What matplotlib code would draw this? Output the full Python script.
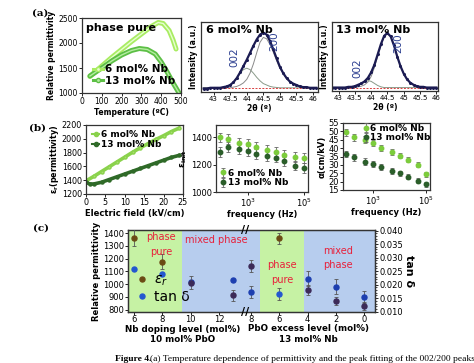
import numpy as np
import matplotlib
matplotlib.use("Agg")
import matplotlib.pyplot as plt
from matplotlib.lines import Line2D

W, H = 474, 363
plt.rcParams['font.family'] = ['DejaVu Sans']

# ---------------- data ----------------
# (a1) temperature dependence
temp_6 = [40, 100, 150, 200, 250, 300, 350, 385, 410, 440, 460, 475]
perm_6 = [1330, 1540, 1710, 1870, 2030, 2180, 2330, 2410, 2390, 2250, 2060, 1880]
temp_13 = [40, 100, 150, 200, 250, 290, 330, 370, 400, 430, 460, 490]
perm_13 = [1340, 1500, 1640, 1760, 1850, 1890, 1870, 1780, 1620, 1420, 1200, 1000]

# (a2)/(a3) XRD peak fitting
two_theta_6 = [42.7, 42.8, 42.9, 43.0, 43.1, 43.2, 43.3, 43.4, 43.5, 43.6, 43.7, 43.8,
               43.9, 44.0, 44.1, 44.2, 44.3, 44.4, 44.5, 44.6, 44.7, 44.8, 44.9, 45.0,
               45.1, 45.2, 45.3, 45.4, 45.5, 45.6, 45.7, 45.8, 45.9, 46.0, 46.1]
meas_6 = [0.05, 0.05, 0.06, 0.06, 0.06, 0.06, 0.07, 0.08, 0.10, 0.14, 0.20, 0.28,
          0.37, 0.46, 0.56, 0.66, 0.75, 0.82, 0.85, 0.82, 0.73, 0.61, 0.48, 0.36,
          0.27, 0.20, 0.15, 0.12, 0.10, 0.08, 0.07, 0.07, 0.06, 0.06, 0.06]
fit200_6 = [0.06, 0.06, 0.06, 0.06, 0.06, 0.06, 0.06, 0.06, 0.06, 0.07, 0.08, 0.10,
            0.13, 0.18, 0.27, 0.40, 0.56, 0.71, 0.78, 0.76, 0.68, 0.57, 0.45, 0.34,
            0.26, 0.19, 0.15, 0.12, 0.10, 0.08, 0.07, 0.07, 0.06, 0.06, 0.06]
fit002_6 = [0.06, 0.06, 0.06, 0.06, 0.06, 0.06, 0.07, 0.08, 0.10, 0.14, 0.20, 0.27,
            0.32, 0.34, 0.32, 0.27, 0.21, 0.16, 0.12, 0.10, 0.08, 0.07, 0.065, 0.06,
            0.06, 0.06, 0.06, 0.06, 0.06, 0.06, 0.06, 0.06, 0.06, 0.06, 0.06]
base_6 = [0.06, 0.06]

two_theta_13 = [42.8, 42.9, 43.0, 43.1, 43.2, 43.3, 43.4, 43.5, 43.6, 43.7, 43.8, 43.9,
                44.0, 44.1, 44.2, 44.3, 44.4, 44.5, 44.6, 44.7, 44.8, 44.9, 45.0, 45.1,
                45.2, 45.3, 45.4, 45.5, 45.6, 45.7, 45.8, 45.9, 46.0]
meas_13 = [0.05, 0.05, 0.05, 0.05, 0.05, 0.06, 0.06, 0.07, 0.09, 0.11, 0.14, 0.19,
           0.27, 0.38, 0.53, 0.68, 0.80, 0.84, 0.79, 0.66, 0.50, 0.36, 0.25, 0.17,
           0.12, 0.09, 0.07, 0.06, 0.06, 0.05, 0.05, 0.05, 0.05]
fit200_13 = [0.05, 0.05, 0.05, 0.05, 0.05, 0.05, 0.05, 0.05, 0.06, 0.07, 0.09, 0.13,
             0.21, 0.34, 0.50, 0.66, 0.79, 0.83, 0.79, 0.66, 0.50, 0.36, 0.25, 0.17,
             0.12, 0.09, 0.07, 0.06, 0.06, 0.05, 0.05, 0.05, 0.05]
fit002_13 = [0.05, 0.05, 0.05, 0.05, 0.05, 0.05, 0.05, 0.06, 0.08, 0.10, 0.13, 0.15,
             0.14, 0.11, 0.08, 0.06, 0.05, 0.05, 0.05, 0.05, 0.05, 0.05, 0.05, 0.05,
             0.05, 0.05, 0.05, 0.05, 0.05, 0.05, 0.05, 0.05, 0.05]
base_13 = [0.05, 0.05]

# (b1) field dependence
field_6 = [0, 2, 4, 6, 8, 10, 12, 14, 16, 18, 20, 22, 24]
eps_field_6 = [1390, 1455, 1525, 1595, 1665, 1735, 1805, 1870, 1930, 1990, 2045, 2105, 2155]
field_13 = [0, 1, 2, 4, 6, 8, 10, 12, 14, 16, 18, 20, 22, 24]
eps_field_13 = [1370, 1345, 1345, 1370, 1410, 1450, 1490, 1530, 1570, 1610, 1650, 1690, 1730, 1760]

# (b2)/(b3) frequency dependence
freq = [1e2, 2e2, 5e2, 1e3, 2e3, 5e3, 1e4, 2e4, 5e4, 1e5]
einit_6 = [1400, 1386, 1357, 1350, 1328, 1308, 1296, 1272, 1255, 1248]
einit_13 = [1292, 1328, 1316, 1299, 1280, 1263, 1251, 1224, 1193, 1176]
einit_err = [35, 35, 35, 35, 35, 35, 35, 35, 35, 35]
alpha_6 = [49.5, 46.5, 45.0, 43.0, 40.0, 37.5, 35.5, 33.0, 30.0, 24.5]
alpha_13 = [36.5, 34.5, 32.0, 30.5, 28.5, 26.5, 25.0, 23.0, 20.5, 18.5]
alpha_err = [2, 2, 2, 1.8, 1.8, 1.8, 1.5, 1.5, 1.5, 1.5]

# (c) composition dependence
nb_levels = [6, 8, 10, 13]
eps_nb = [1365, 1174, 1010, 911]
eps_nb_err = [65, 59, 50, 40]
tan_nb = [0.0257, 0.0239, 0.0210, 0.0219]
pbo_levels = [8, 6, 4, 2, 0]
eps_pbo = [1142, 1358, 953, 868, 830]
eps_pbo_err = [48, 40, 40, 30, 30]
tan_pbo = [0.0173, 0.0165, 0.0222, 0.0192, 0.0155]
tan_pbo_err = [0.0022, 0.0022, 0.0028, 0.0028, 0.0022]

# ---------------- figure ----------------
fig = plt.figure(figsize=(W / 100, H / 100), dpi=100)


def add_ax(l, t, r, b):
    return fig.add_axes([l / W, 1 - b / H, (r - l) / W, (b - t) / H])


def style(ax, ls=5.5):
    ax.tick_params(direction='out', length=2, width=0.6, labelsize=ls, pad=1)
    for s in ax.spines.values():
        s.set_linewidth(0.9)
        s.set_color('#333333')


bold = dict(fontweight='bold')

# ---- (a1)
a1 = add_ax(82, 18, 181, 93)
style(a1)
for t, p, c_out, c_in, lab in [(temp_6, perm_6, '#a9ec62', '#e6ffd0', '6 mol% Nb'),
                               (temp_13, perm_13, '#5cbf45', '#b4eca0', '13 mol% Nb')]:
    a1.plot(t, p, color=c_out, lw=3.6, solid_capstyle='round')
    a1.plot(t, p, color=c_in, lw=1.0)
a1.set_xlim(0, 500)
a1.set_ylim(1000, 2500)
a1.set_xticks([0, 100, 200, 300, 400, 500])
a1.set_yticks([1000, 1500, 2000, 2500])
a1.set_xlabel('Temperature (ºC)', fontsize=5.5, labelpad=1, **bold)
a1.set_ylabel('Relative permittivity', fontsize=5.5, labelpad=2, **bold)
a1.text(0.04, 0.93, 'phase pure', transform=a1.transAxes, fontsize=8, va='top', **bold)
h1 = [Line2D([], [], color='#a9ec62', lw=2.2, marker='o', ms=3, mfc='#e6ffd0'),
      Line2D([], [], color='#5cbf45', lw=2.2, marker='o', ms=3, mfc='#b4eca0')]
a1.legend(h1, ['6 mol% Nb', '13 mol% Nb'], loc='lower right', bbox_to_anchor=(1.04, -0.03),
          frameon=False, handlelength=1.0, handletextpad=0.2, labelspacing=0.15,
          prop=dict(size=7.5, weight='bold'))

# ---- (a2), (a3)
for (l, t, r, b), tt, meas, f200, f002, base, xl, title, pos002, pos200 in [
        ((201, 22, 318, 92), two_theta_6, meas_6, fit200_6, fit002_6, base_6, (42.62, 46.15),
         '6 mol% Nb', (43.62, 0.50), (44.82, 0.72)),
        ((332, 22, 438, 91), two_theta_13, meas_13, fit200_13, fit002_13, base_13, (42.8, 46.05),
         '13 mol% Nb', (43.58, 0.33), (44.83, 0.69))]:
    ax = add_ax(l, t, r, b)
    style(ax, 5)
    ax.plot(tt, f200, color='#8a8a8a', lw=0.7)
    ax.plot(tt, f002, color='#8a9a8a', lw=0.7)
    ax.plot([tt[0], tt[-1]], base, color='#d84040', lw=0.7, ls=(0, (2, 1.5)))
    ax.plot(tt, meas, color='#1b1b52', lw=1.6, marker='o', ms=1.2)
    ax.set_xlim(*xl)
    ax.set_ylim(0, 1.0)
    ax.set_yticks([])
    ax.set_xticks([43, 43.5, 44, 44.5, 45, 45.5, 46])
    ax.set_xticklabels(['43', '43.5', '44', '44.5', '45', '45.5', '46'])
    ax.set_xlabel('2θ (º)', fontsize=5.5, labelpad=1, **bold)
    ax.set_ylabel('Intensity (a.u.)', fontsize=5.5, labelpad=2, **bold)
    ax.text(0.04, 0.96, title, transform=ax.transAxes, fontsize=8, va='top', **bold)
    ax.text(*pos002, '002', rotation=90, color='#2a3d8f', fontsize=7.5, ha='center', va='center')
    ax.text(*pos200, '200', rotation=90, color='#2a3d8f', fontsize=7.5, ha='center', va='center')

# ---- (b1)
b1 = add_ax(86, 125, 183, 194)
style(b1)
b1.plot(field_6, eps_field_6, color='#8ad24c', lw=2.6, marker='o', ms=2.2, mfc='#a8e070', mec='#8ad24c')
b1.plot(field_13, eps_field_13, color='#2f6a28', lw=2.6, marker='o', ms=2.2)
b1.set_xlim(0, 25)
b1.set_ylim(1200, 2200)
b1.set_xticks([0, 5, 10, 15, 20, 25])
b1.set_yticks([1200, 1400, 1600, 1800, 2000, 2200])
b1.set_xlabel('Electric field (kV/cm)', fontsize=6, labelpad=1, **bold)
b1.set_ylabel(r'$\mathbf{\varepsilon_r}$(permittivity)', fontsize=5.8, labelpad=0.5, **bold)
b1.tick_params(labelsize=5.8)
hb1 = [Line2D([], [], color='#8ad24c', lw=1.5, marker='o', ms=3),
       Line2D([], [], color='#2f6a28', lw=1.5, marker='o', ms=3)]
b1.legend(hb1, ['6 mol% Nb', '13 mol% Nb'], loc='upper left', bbox_to_anchor=(-0.02, 1.04),
          frameon=False, handlelength=0.8, handletextpad=0.2, labelspacing=0.1,
          prop=dict(size=6.5, weight='bold'))

# ---- (b2)
b2 = add_ax(216, 125, 308, 192)
style(b2)
b2.errorbar(freq, einit_6, yerr=einit_err, fmt='o', ms=3.2, color='#7ccc3c', ecolor='#666666',
            elinewidth=0.6, capsize=1.5, capthick=0.6, label='6 mol% Nb')
b2.errorbar(freq, einit_13, yerr=einit_err, fmt='o', ms=3.2, color='#2b5e2a', ecolor='#666666',
            elinewidth=0.6, capsize=1.5, capthick=0.6, label='13 mol% Nb')
b2.set_xscale('log')
b2.set_xlim(75, 1.4e5)
b2.set_ylim(1000, 1490)
b2.set_yticks([1000, 1200, 1400])
b2.set_xlabel('frequency (Hz)', fontsize=6, labelpad=1, **bold)
b2.set_ylabel(r'$\mathbf{\varepsilon_{init}}$', fontsize=6.5, labelpad=1)
b2.tick_params(labelsize=6)
b2.legend(loc='lower left', frameon=False, handlelength=0.6, handletextpad=0.2,
          labelspacing=0.1, borderaxespad=0.1, prop=dict(size=6.5, weight='bold'))

# ---- (b3)
b3 = add_ax(343, 123, 430, 190)
style(b3)
b3.errorbar(freq, alpha_6, yerr=alpha_err, fmt='o', ms=3.2, color='#7ccc3c', ecolor='#666666',
            elinewidth=0.6, capsize=1.5, capthick=0.6, label='6 mol% Nb')
b3.errorbar(freq, alpha_13, yerr=alpha_err, fmt='o', ms=3.2, color='#2b5e2a', ecolor='#666666',
            elinewidth=0.6, capsize=1.5, capthick=0.6, label='13 mol% Nb')
b3.set_xscale('log')
b3.set_xlim(75, 1.4e5)
b3.set_ylim(15, 55)
b3.set_yticks([15, 20, 25, 30, 35, 40, 45, 50, 55])
b3.set_xlabel('frequency (Hz)', fontsize=6, labelpad=1, **bold)
b3.set_ylabel('α(cm/kV)', fontsize=6, labelpad=1, **bold)
b3.tick_params(labelsize=6)
b3.legend(loc='upper right', frameon=False, handlelength=0.6, handletextpad=0.2,
          labelspacing=0.05, borderaxespad=0.0, bbox_to_anchor=(1.05, 1.04),
          prop=dict(size=6.5, weight='bold'))

# ---- (c)
cx = add_ax(128, 230, 375, 312)
style(cx, 6)
cx2 = cx.twinx()
style(cx2, 6)
cx.tick_params(axis='x', pad=0.5)
pbo_x0 = 14.23
nb_x = list(nb_levels)
pbo_x = [pbo_x0 + (8 - p) for p in pbo_levels]
x_min, x_max = 5.58, 22.97
green_c, blue_c = '#c6f2a4', '#b7cdee'
regions = [(x_min, 9.41, green_c), (9.41, 14.85, blue_c), (14.85, 17.99, green_c), (17.99, x_max, blue_c)]
# spans live on the lower (tan delta) axes; the permittivity axes sit on top, transparent
for x0, x1, col in regions:
    cx2.axvspan(x0, x1, color=col, lw=0, zorder=0)


def in_green(x):
    return any(x0 <= x < x1 for x0, x1, col in regions if col == green_c)


all_x = nb_x + pbo_x
all_eps = eps_nb + eps_pbo
all_eps_err = eps_nb_err + eps_pbo_err
all_tan = tan_nb + tan_pbo
all_tan_err = [0, 0, 0, 0] + tan_pbo_err
for x, e, ee, tv, te in zip(all_x, all_eps, all_eps_err, all_tan, all_tan_err):
    g = in_green(x)
    tcol = '#2458d0' if g else '#1d3fb0'
    ecol = '#6b4b14' if g else '#3c2a58'
    cx2.errorbar([x], [tv], yerr=[te] if te else None, fmt='o', ms=3.6, color=tcol,
                 ecolor='#555555', elinewidth=0.6, capsize=1.5, capthick=0.6, zorder=3)
    cx.errorbar([x], [e], yerr=[ee], fmt='o', ms=3.6, color=ecol,
                ecolor='#555555', elinewidth=0.6, capsize=1.5, capthick=0.6, zorder=3)
cx.set_zorder(cx2.get_zorder() + 1)
cx.patch.set_visible(False)
cx2.patch.set_visible(True)
cx.set_xlim(x_min, x_max)
cx2.set_xlim(x_min, x_max)
cx.set_ylim(781, 1424)
cx.set_yticks([800, 900, 1000, 1100, 1200, 1300, 1400])
cx2.set_ylim(0.0099, 0.0402)
cx2.set_yticks([0.010, 0.015, 0.020, 0.025, 0.030, 0.035, 0.040])
cx2.set_yticklabels(['0.010', '0.015', '0.020', '0.025', '0.030', '0.035', '0.040'])
cx2.set_yticks(np.arange(0.010, 0.0401, 0.001), minor=True)
cx2.tick_params(which='minor', length=1.5, width=0.5)
cx.set_xticks([6, 8, 10, 12] + pbo_x)
cx.set_xticklabels(['6', '8', '10', '12'] + [str(p) for p in pbo_levels])
cx.set_ylabel('Relative permittivity', fontsize=6, labelpad=1, **bold)
cx2.set_ylabel('tan δ', fontsize=8, rotation=270, labelpad=8, **bold)
# break marks
for yy in (1.0, 0.0):
    cx.text(13.8, yy, '//', transform=cx.get_xaxis_transform(), fontsize=8, ha='center',
            va='center', fontweight='bold', zorder=5, clip_on=False)
# red annotations
red = '#e8203a'
cx.text(7.9, 0.97, 'phase\npure', transform=cx.get_xaxis_transform(), color=red, fontsize=7,
        ha='center', va='top', linespacing=1.6)
cx.text(11.8, 0.88, 'mixed phase', transform=cx.get_xaxis_transform(), color=red, fontsize=7,
        ha='center', va='center')
cx.text(16.45, 0.63, 'phase\npure', transform=cx.get_xaxis_transform(), color=red, fontsize=7,
        ha='center', va='top', linespacing=1.6)
cx.text(20.35, 0.81, 'mixed\nphase', transform=cx.get_xaxis_transform(), color=red, fontsize=7,
        ha='center', va='top', linespacing=1.5)
# legend
hc = [Line2D([], [], ls='none', marker='o', ms=3.6, color='#6b4b14'),
      Line2D([], [], ls='none', marker='o', ms=3.6, color='#2458d0')]
cx.legend(hc, [r'$\varepsilon_r$', 'tan δ'], loc='lower left', frameon=False, handlelength=0.8,
          handletextpad=0.5, labelspacing=0.1, borderaxespad=0.2, prop=dict(size=10))
# x labels
fig.text(183 / W, 1 - 329 / H, 'Nb doping level (mol%)', fontsize=6.3, ha='center', va='center', **bold)
fig.text(183 / W, 1 - 339 / H, '10 mol% PbO', fontsize=6.3, ha='center', va='center', **bold)
fig.text(308 / W, 1 - 329 / H, 'PbO excess level (mol%)', fontsize=6.3, ha='center', va='center', **bold)
fig.text(308 / W, 1 - 339 / H, '13 mol% Nb', fontsize=6.3, ha='center', va='center', **bold)

# panel labels
for lab, x, y in [('(a)', 40, 13), ('(b)', 37, 128), ('(c)', 41, 228)]:
    fig.text(x / W, 1 - y / H, lab, fontsize=7.5, fontweight='bold', family='DejaVu Serif',
             ha='center', va='center')

# caption
fig.text(115 / W, 1 - 359 / H, 'Figure 4.', fontsize=6.8, fontweight='bold', family='Liberation Serif',
         ha='left', va='center')
fig.text(150 / W, 1 - 359 / H,
         '(a) Temperature dependence of permittivity and the peak fitting of the 002/200 peaks',
         fontsize=6.8, family='Liberation Serif', ha='left', va='center')

fig.savefig('out.png', dpi=100)
